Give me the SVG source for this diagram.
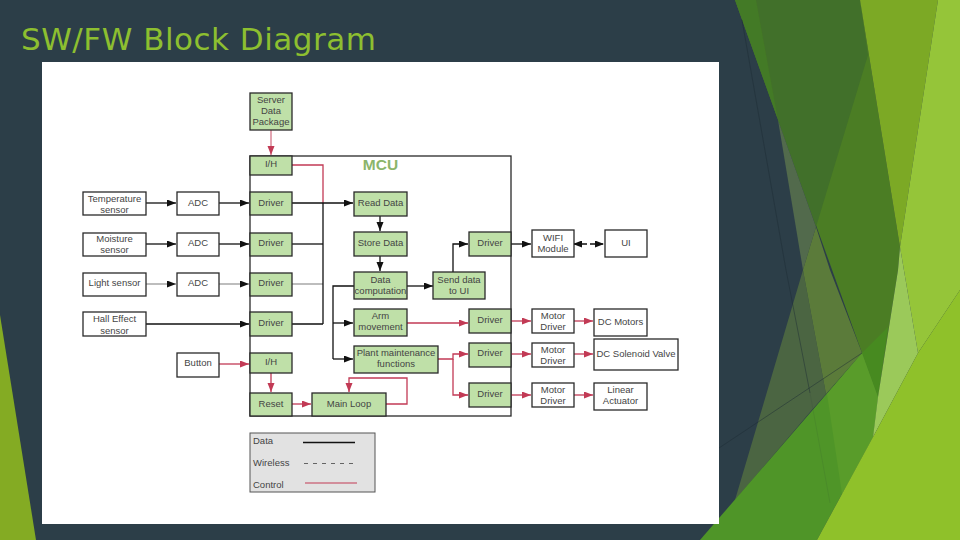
<svg xmlns="http://www.w3.org/2000/svg" width="960" height="540" viewBox="0 0 960 540">
<style>
text{font-family:"Liberation Sans",Arial,sans-serif;font-size:9.5px;fill:#444;text-anchor:middle}
.g{fill:#bfe0a8;stroke:#2a2a2a;stroke-width:1.3}
.w{fill:#fff;stroke:#2a2a2a;stroke-width:1.3}
.c{fill:none;stroke-width:1.3}
.k{stroke:#111;marker-end:url(#ak)}
.kn{stroke:#111}
.r{stroke:#c23a55;marker-end:url(#ar)}
.rn{stroke:#c23a55}
.l{text-anchor:start}
</style>
<defs>
<marker id="ak" markerUnits="userSpaceOnUse" markerWidth="10" markerHeight="8" refX="9" refY="3.5" orient="auto"><path d="M0 0L9 3.5L0 7z" fill="#111"/></marker>
<marker id="ar" markerUnits="userSpaceOnUse" markerWidth="10" markerHeight="8" refX="9" refY="3.5" orient="auto"><path d="M0 0L9 3.5L0 7z" fill="#c23a55"/></marker>
<marker id="as" markerUnits="userSpaceOnUse" markerWidth="10" markerHeight="8" refX="1" refY="3.5" orient="auto"><path d="M9 0L0 3.5L9 7z" fill="#111"/></marker>
</defs>
<rect width="960" height="540" fill="#2c3e48"/>
<g id="background">
<path d="M0 315L36 540H0z" fill="#84ab23"/>
<path d="M735 0H860L900 247L898 270L878 397L862 353z" fill="#4b7d24"/>
<path d="M735 0H756L778 120z" fill="#437a26"/>
<path d="M756 0H860L868 55L816 227L778 120z" fill="#41702a"/>
<path d="M862 353L888 327L878 397z" fill="#478a20"/>
<path d="M778 120L816 227L803 270z" fill="#526a4c"/>
<path d="M803 270L735 500L811 411L826 394z" fill="#4b6542"/>
<path d="M816 227L830 270L862 353L826 394L803 270z" fill="#5b7b3a"/>
<path d="M860 0H938L900 247z" fill="#7ca925"/>
<path d="M862 353L878 397L873 437L817 540H700z" fill="#4f9528"/>
<path d="M827 394L862 353L878 397L873 437L842 494z" fill="#599c2a"/>
<path d="M938 0H960V290L918 353L900 247z" fill="#95c539"/>
<path d="M900 247L918 353L873 437L878 397L898 270z" fill="#9bc95a"/>
<path d="M960 290V540H817L873 437L918 353z" fill="#8fc12a"/>
<path d="M742 20L786 270L810 393M719 448L862 353" fill="none" stroke="#1d2d35" stroke-opacity=".6" stroke-width=".8"/>
<path d="M810 393L830 503" fill="none" stroke="#1d2d35" stroke-opacity=".12" stroke-width=".8"/>
</g>
<text x="198.500" y="50" style="font-family:'DejaVu Sans',sans-serif;font-size:31px;fill:#8dbf30" textLength="355" lengthAdjust="spacing">SW/FW Block Diagram</text>
<rect x="42" y="62" width="677" height="462" fill="#fff"/>
<g id="mcu"><rect x="250" y="156" width="261" height="260" fill="#fff" stroke="#2a2a2a" stroke-width="1.3"/><text x="380.500" y="170" style="font-size:15.500px;font-weight:bold;fill:#8cb56b">MCU</text></g>
<g id="connectors">
<path class="c r" d="M271 130V155" stroke-opacity=".7"/>
<path class="c rn" d="M292 165H323V203"/>
<path class="c k" d="M146 203H176"/><path class="c k" d="M219 203H249"/><path class="c k" d="M292 203H353"/>
<path class="c k" d="M146 244H176"/><path class="c k" d="M219 244H249"/><path class="c kn" d="M292 244H323"/>
<path class="c k" style="stroke:#999" d="M146 284H176"/><path class="c k" style="stroke:#999" d="M219 284H249"/>
<path class="c" stroke="#999" d="M292 284H323"/>
<path class="c k" d="M146 324H249"/><path class="c kn" d="M292 324H323M323 203V324"/>
<path class="c r" d="M219 364H249"/><path class="c r" d="M271 373V392"/><path class="c r" d="M292 404H311"/>
<path class="c k" d="M380 216V231"/><path class="c k" d="M380 256V271"/>
<path class="c k" d="M407 286H433"/><path class="c k" d="M453 272V244H468"/>
<path class="c kn" d="M354 286H333V359"/><path class="c k" d="M333 323H353"/><path class="c k" d="M333 359H353"/>
<path class="c r" d="M407 323H468"/>
<path class="c r" d="M438 359H453V354H468"/><path class="c r" d="M453 359V395H468"/>
<path class="c r" d="M386 404H407V378H349V392"/>
<path class="c k" d="M511 244H531"/>
<path class="c k" d="M574 244H604" stroke-dasharray="5 3" marker-start="url(#as)"/>
<path class="c r" d="M511 321H531"/><path class="c r" d="M574 321H593"/>
<path class="c r" d="M511 354H531"/><path class="c r" d="M574 354H593"/>
<path class="c r" d="M511 395H531"/><path class="c r" d="M574 395H593"/>
</g>
<g id="server"><rect class="g" x="250" y="93" width="42" height="37"/><text x="271" y="103">Server</text><text x="271" y="114">Data</text><text x="271" y="125">Package</text></g>
<g id="ih1"><rect class="g" x="250" y="156" width="42" height="19"/><text x="271" y="167">I/H</text></g>
<g id="temp"><rect class="w" x="83" y="192" width="63" height="23"/><text x="114.500" y="202">Temperature</text><text x="114.500" y="213">sensor</text></g>
<g id="moist"><rect class="w" x="83" y="233" width="63" height="23"/><text x="114.500" y="242">Moisture</text><text x="114.500" y="253">sensor</text></g>
<g id="light"><rect class="w" x="83" y="273" width="63" height="23"/><text x="114.500" y="286">Light sensor</text></g>
<g id="hall"><rect class="w" x="83" y="312" width="63" height="24"/><text x="114.500" y="322">Hall Effect</text><text x="114.500" y="334">sensor</text></g>
<g id="adc1"><rect class="w" x="177" y="192" width="42" height="23"/><text x="198" y="206">ADC</text></g>
<g id="adc2"><rect class="w" x="177" y="233" width="42" height="23"/><text x="198" y="246">ADC</text></g>
<g id="adc3"><rect class="w" x="177" y="273" width="42" height="23"/><text x="198" y="286">ADC</text></g>
<g id="button"><rect class="w" x="177" y="353" width="42" height="24"/><text x="198" y="366">Button</text></g>
<g id="drv1"><rect class="g" x="250" y="192" width="42" height="23"/><text x="271" y="206">Driver</text></g>
<g id="drv2"><rect class="g" x="250" y="233" width="42" height="23"/><text x="271" y="246">Driver</text></g>
<g id="drv3"><rect class="g" x="250" y="273" width="42" height="23"/><text x="271" y="286">Driver</text></g>
<g id="drv4"><rect class="g" x="250" y="312" width="42" height="24"/><text x="271" y="326">Driver</text></g>
<g id="ih2"><rect class="g" x="250" y="353" width="42" height="20"/><text x="271" y="365">I/H</text></g>
<g id="reset"><rect class="g" x="250" y="393" width="42" height="23"/><text x="271" y="407">Reset</text></g>
<g id="mainloop"><rect class="g" x="312" y="393" width="74" height="23"/><text x="349" y="407">Main Loop</text></g>
<g id="read"><rect class="g" x="354" y="192" width="53" height="24"/><text x="380.500" y="206">Read Data</text></g>
<g id="store"><rect class="g" x="354" y="232" width="53" height="24"/><text x="380.500" y="246">Store Data</text></g>
<g id="comp"><rect class="g" x="354" y="272" width="53" height="27"/><text x="380.500" y="283">Data</text><text x="380.500" y="294">computation</text></g>
<g id="send"><rect class="g" x="433" y="272" width="52" height="27"/><text x="459" y="283">Send data</text><text x="459" y="294">to UI</text></g>
<g id="arm"><rect class="g" x="354" y="309" width="53" height="27"/><text x="380.500" y="319">Arm</text><text x="380.500" y="330">movement</text></g>
<g id="plant"><rect class="g" x="354" y="346" width="84" height="27"/><text x="396" y="356">Plant maintenance</text><text x="396" y="367">functions</text></g>
<g id="drv5"><rect class="g" x="469" y="232" width="42" height="24"/><text x="490" y="246">Driver</text></g>
<g id="drv6"><rect class="g" x="469" y="309" width="42" height="24"/><text x="490" y="323">Driver</text></g>
<g id="drv7"><rect class="g" x="469" y="343" width="42" height="24"/><text x="490" y="356">Driver</text></g>
<g id="drv8"><rect class="g" x="469" y="383" width="42" height="24"/><text x="490" y="397">Driver</text></g>
<g id="wifi"><rect class="w" x="532" y="230" width="42" height="27"/><text x="553" y="241">WIFI</text><text x="553" y="252">Module</text></g>
<g id="ui"><rect class="w" x="605" y="230" width="42" height="27"/><text x="626" y="246">UI</text></g>
<g id="md1"><rect class="w" x="532" y="309" width="42" height="24"/><text x="553" y="319">Motor</text><text x="553" y="330">Driver</text></g>
<g id="md2"><rect class="w" x="532" y="343" width="42" height="24"/><text x="553" y="353">Motor</text><text x="553" y="364">Driver</text></g>
<g id="md3"><rect class="w" x="532" y="383" width="42" height="24"/><text x="553" y="393">Motor</text><text x="553" y="404">Driver</text></g>
<g id="dcm"><rect class="w" x="594" y="309" width="53" height="27"/><text x="620.500" y="325">DC Motors</text></g>
<g id="sol"><rect class="w" x="594" y="339" width="84" height="31"/><text x="636" y="357">DC Solenoid Valve</text></g>
<g id="lin"><rect class="w" x="594" y="383" width="53" height="27"/><text x="620.500" y="393">Linear</text><text x="620.500" y="404">Actuator</text></g>
<g id="legend"><rect x="250" y="433" width="125" height="59" fill="#e2e2e2" stroke="#555" stroke-width="1"/>
<text class="l" x="253" y="444">Data</text><text class="l" x="253" y="466">Wireless</text><text class="l" x="253" y="488">Control</text>
<path d="M303 442.500H355" stroke="#111" stroke-width="1.500"/><path d="M304 463.500H357" stroke="#444" stroke-dasharray="4 5" stroke-width=".8"/><path d="M305 483H357" stroke="#c23a55"/></g>
</svg>
